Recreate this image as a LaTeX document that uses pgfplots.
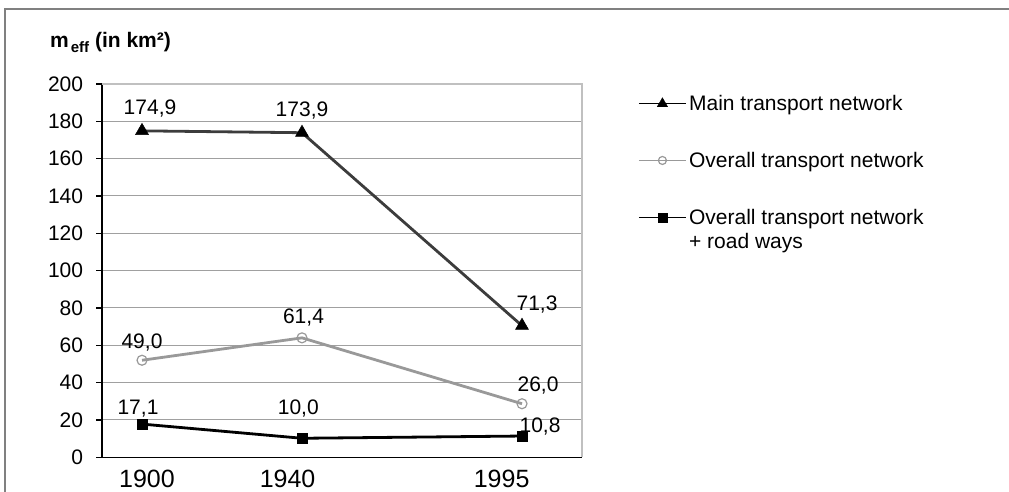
\documentclass[border=0pt]{standalone}
\usepackage{pgfplots}
\pgfplotsset{compat=1.18}
\usepackage{pgfplotstable}
\usepackage{fontspec}
\setmainfont{Liberation Sans}

\pgfplotstableread{
x y label dx dy
1900 174.9 174,9 8 16
1940 173.9 173,9 0 16
1995 70.5 71,3 15 15.2
}\mainnet
\pgfplotstableread{
x y label dx dy
1900 52.0 49,0 0 11.5
1940 64.0 61,4 1.5 14.2
1995 28.7 26,0 16 12
}\overallnet
\pgfplotstableread{
x y label dx dy
1900 17.8 17,1 -4 9.8
1940 10.2 10,0 -3.7 24.2
1995 11.4 10,8 18 3.5
}\roadnet

\definecolor{maincol}{HTML}{3C3C3C}
\definecolor{overallcol}{HTML}{999999}
\definecolor{gridcol}{HTML}{A0A0A0}
\definecolor{bordercol}{HTML}{C0C0C0}
\definecolor{framecol}{HTML}{808080}

\newcommand{\ticksize}{\fontsize{21bp}{24bp}\selectfont}
\newcommand{\yearsize}{\fontsize{25bp}{28bp}\selectfont}

\pgfplotsset{
  legimg/.style={legend image code/.code={\draw[mark repeat=2,mark phase=2,##1] plot coordinates {(0bp,0bp) (23.5bp,0bp) (47bp,0bp)};}},
  legimgup/.style={legend image code/.code={\draw[mark repeat=2,mark phase=2,##1] plot coordinates {(0bp,11.5bp) (23.5bp,11.5bp) (47bp,11.5bp)};}},
}

\begin{document}
\begin{tikzpicture}[x=1bp,y=1bp]
\useasboundingbox (0,0) rectangle (1009,-492);
\draw[line width=1.5bp, framecol] (5,-9) rectangle (1040,-530);
\node[anchor=base west, inner sep=0pt, font=\fontsize{21bp}{24bp}\selectfont\bfseries] at (50,-47.7)
  {m\hspace{2bp}\raisebox{-5bp}{\fontsize{15bp}{15bp}\selectfont eff} (in km²)};
\begin{axis}[
  at={(102bp,-457.3bp)}, anchor=south west,
  width=480bp, height=373.3bp, scale only axis,
  font=\ticksize,
  xmin=1890, xmax=2010, ymin=0, ymax=200,
  enlargelimits=false, clip=false,
  ytick={0,20,...,200},
  xtick={1901.25,1936.4,1989.9}, xticklabels={1900,1940,1995},
  axis x line*=bottom, axis y line*=left,
  axis line style={-, line width=1.2bp, black},
  ymajorgrids, major grid style={line width=1bp, gridcol},
  tick align=outside, major tick length=6bp,
  ytick style={line width=1.2bp, black}, xtick style={draw=none},
  /pgf/number format/assume math mode=true,
  tick label style={font=\ticksize},
  yticklabel style={font=\ticksize, inner sep=0pt, anchor=east, xshift=-12.7bp},
  xticklabel style={font=\yearsize, inner sep=0pt, anchor=north, yshift=-6.7bp},
  extra description/.code={
    \draw[bordercol, line width=1.2bp] (rel axis cs:0,1) -- (rel axis cs:1,1) -- (rel axis cs:1,0);
  },
  nodes near coords,
  point meta=explicit symbolic,
  visualization depends on={\thisrow{dx} \as \dx},
  visualization depends on={\thisrow{dy} \as \dy},
  every node near coord/.append style={font=\ticksize, text=black, anchor=base, inner sep=0pt, xshift=\dx bp, yshift=\dy bp},
  legimg,
  legend cell align=left,
  legend style={draw=none, fill=none, font=\ticksize, row sep=35bp, inner sep=0pt,
    nodes={inner sep=2.5bp, align=left}, at={(1.1167,0.9767)}, anchor=north west},
]
\addplot[forget plot, maincol, line width=2.8bp, mark=triangle*, mark size=7.5bp, mark options={solid, fill=black, draw=black, line width=0.5bp}]
  table[x=x, y=y, meta=label] {\mainnet};
\addplot[forget plot, overallcol, line width=2.8bp, mark=o, mark size=5bp, mark options={solid, draw=overallcol, fill=white, line width=1.2bp}]
  table[x=x, y=y, meta=label] {\overallnet};
\addplot[forget plot, black, line width=2.8bp, mark=square*, mark size=5bp, mark options={solid, fill=black, draw=black, line width=0.5bp}]
  table[x=x, y=y, meta=label] {\roadnet};
\addlegendimage{legimg, black, line width=1.4bp, mark=triangle*, mark size=6bp, mark options={solid, fill=black, line width=0.4bp}}
\addlegendentry{Main transport network}
\addlegendimage{legimg, overallcol, line width=1.4bp, mark=o, mark size=4bp, mark options={solid, fill=white, line width=1.2bp}}
\addlegendentry{Overall transport network}
\addlegendimage{legimgup, black, line width=1.4bp, mark=square*, mark size=4.5bp, mark options={solid, fill=black, line width=0.4bp}}
\addlegendentry{Overall transport network\\+ road ways}
\end{axis}
\end{tikzpicture}
\end{document}
